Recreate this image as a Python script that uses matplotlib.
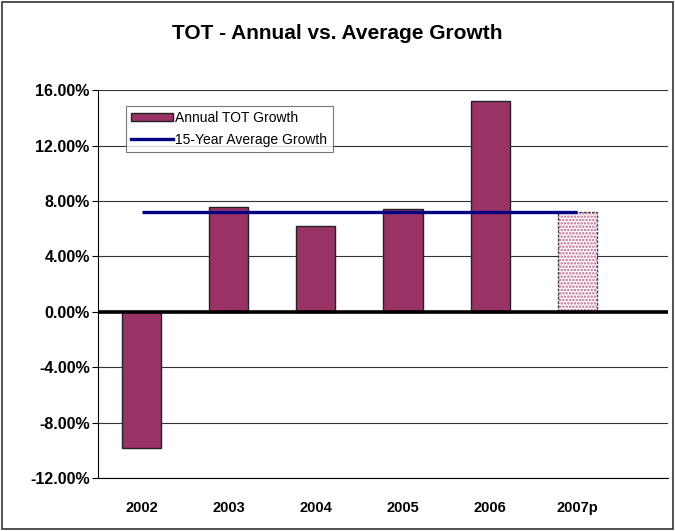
import numpy as np
import matplotlib.pyplot as plt
from matplotlib.patches import Rectangle
from matplotlib.lines import Line2D
from matplotlib.ticker import PercentFormatter

plt.rcParams['font.family'] = ['Liberation Sans', 'DejaVu Sans']
plt.rcParams['axes.unicode_minus'] = False

years = ['2002', '2003', '2004', '2005', '2006', '2007p']
annual_growth = [-9.8, 7.6, 6.2, 7.4, 15.2, 7.2]   # percent; last one is projected
avg_growth = 7.2                                     # 15-year average, percent

fig = plt.figure(figsize=(6.75, 5.31), dpi=100)
ax = fig.add_axes([0.1452, 0.0989, 0.8444, 0.7316])

x = np.arange(len(years))
plum = '#993366'

# actual years as solid bars, projection as dotted bar
ax.bar(x[:-1], annual_growth[:-1], width=0.45, color=plum,
       edgecolor='#222222', linewidth=1.0, zorder=3)
plt.rcParams['hatch.color'] = '#c0608f'
plt.rcParams['hatch.linewidth'] = 1.2
ax.bar(x[-1:], annual_growth[-1:], width=0.45, color='white',
       edgecolor='#c0608f', hatch='.....', linewidth=0, zorder=3)
ax.bar(x[-1:], annual_growth[-1:], width=0.45, fill=False,
       edgecolor='#444444', linewidth=1.0, linestyle=(0, (2, 1)), zorder=4)

ax.plot([x[0], x[-1]], [avg_growth, avg_growth], color='#000080',
        linewidth=2.4, zorder=5, solid_capstyle='butt')

ax.axhline(0, color='black', linewidth=2.6, zorder=6)

ax.set_xlim(-0.5, 6.04)
ax.set_ylim(-12, 16)
ax.set_yticks(np.arange(-12, 17, 4))
ax.yaxis.set_major_formatter(PercentFormatter(decimals=2))
ax.grid(axis='y', color='#333333', linewidth=0.8, zorder=0)

ax.set_xticks(x)
ax.set_xticklabels(years)
ax.tick_params(axis='x', length=0, pad=16)
ax.tick_params(axis='y', direction='out', length=4, width=0.8, pad=2)
for lab in ax.get_xticklabels():
    lab.set_fontsize(10.5)
    lab.set_fontweight('bold')
for lab in ax.get_yticklabels():
    lab.set_fontsize(11.5)
    lab.set_fontweight('bold')

ax.spines['top'].set_visible(False)
ax.spines['right'].set_visible(False)
ax.spines['left'].set_linewidth(0.8)
ax.spines['bottom'].set_linewidth(0.8)

handles = [Rectangle((0, 0), 1, 1, facecolor=plum, edgecolor='#222222', linewidth=1.0),
           Line2D([], [], color='#000080', linewidth=2.4)]
leg = ax.legend(handles, ['Annual TOT Growth', '15-Year Average Growth'],
                loc='upper left', bbox_to_anchor=(0.049, 0.96), fontsize=10,
                frameon=True, fancybox=False, edgecolor='#555555',
                handlelength=3.0, handleheight=0.5, handletextpad=0.15,
                borderpad=0.4, labelspacing=0.55, borderaxespad=0)
leg.get_frame().set_linewidth(0.8)
leg.set_zorder(10)

fig.text(0.5, 0.936, 'TOT - Annual vs. Average Growth', ha='center', va='center',
         fontsize=15, fontweight='bold')

# outer frame around the chart
fig.patches.append(Rectangle((0.003, 0.003), 0.994, 0.994, transform=fig.transFigure,
                             fill=False, edgecolor='#333333', linewidth=1.2))

fig.savefig('out.png', dpi=100)
